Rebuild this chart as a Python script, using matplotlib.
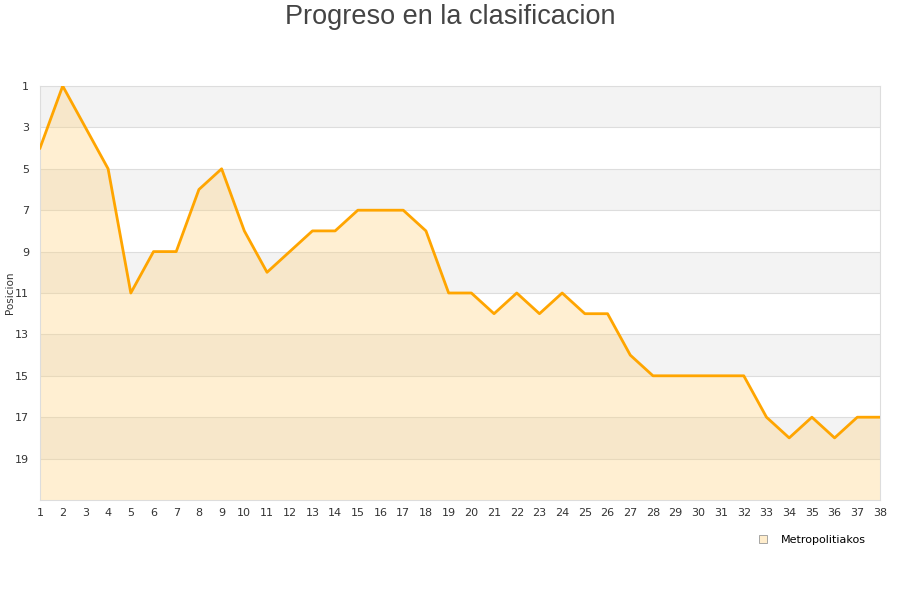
import numpy as np
import matplotlib
matplotlib.use("Agg")
import matplotlib.pyplot as plt
from matplotlib.lines import Line2D

# jornadas and league position of the team
jornadas = list(range(1, 39))
posicion = [4, 1, 3, 5, 11, 9, 9, 6, 5, 8,
            10, 9, 8, 8, 7, 7, 7, 8, 11, 11,
            12, 11, 12, 11, 12, 12, 14, 15, 15, 15,
            15, 15, 17, 18, 17, 18, 17, 17]
equipo = "Metropolitiakos"
y_ticks = list(range(1, 20, 2))

fig = plt.figure(figsize=(9.0, 6.0), dpi=100, facecolor="w")
ax = fig.add_axes([40/900, 100/600, 840/900, 414/600])

ymin, ymax = 1, 21
# alternating horizontal bands
for y0 in range(1, 21, 4):
    ax.axhspan(y0, y0 + 2, color="#f3f3f3", zorder=0, lw=0)
for y in y_ticks[1:]:
    ax.axhline(y, color="#dddddd", lw=0.8, zorder=1)

ax.fill_between(jornadas, posicion, ymax, color="#ffd27f", alpha=0.35,
                lw=0, zorder=2)
ax.plot(jornadas, posicion, color="#ffa500", lw=2, zorder=3)

ax.set_xlim(1, 38)
ax.set_ylim(ymax, ymin)
ax.set_xticks(jornadas)
ax.set_yticks(y_ticks)
ax.tick_params(axis="both", length=0, labelsize=8, colors="#333333", pad=6)
ax.tick_params(axis="y", pad=8)
for s in ax.spines.values():
    s.set_color("#dddddd")
ax.set_ylabel("Posicion", fontsize=7.5, color="#333333")
ax.yaxis.set_label_coords(-0.03, 0.5)

fig.suptitle("Progreso en la clasificacion", fontsize=19.5, color="#444444",
             family="Liberation Sans", y=0.993)

h = Line2D([], [], marker="s", ls="", markersize=6, markerfacecolor="#ffedcc",
           markeredgecolor="#999999", markeredgewidth=0.6)
fig.legend([h], [equipo], loc="upper right", bbox_to_anchor=(0.973, 0.125),
           frameon=False, fontsize=8, handletextpad=0.6)

plt.savefig("out.png", dpi=100)
